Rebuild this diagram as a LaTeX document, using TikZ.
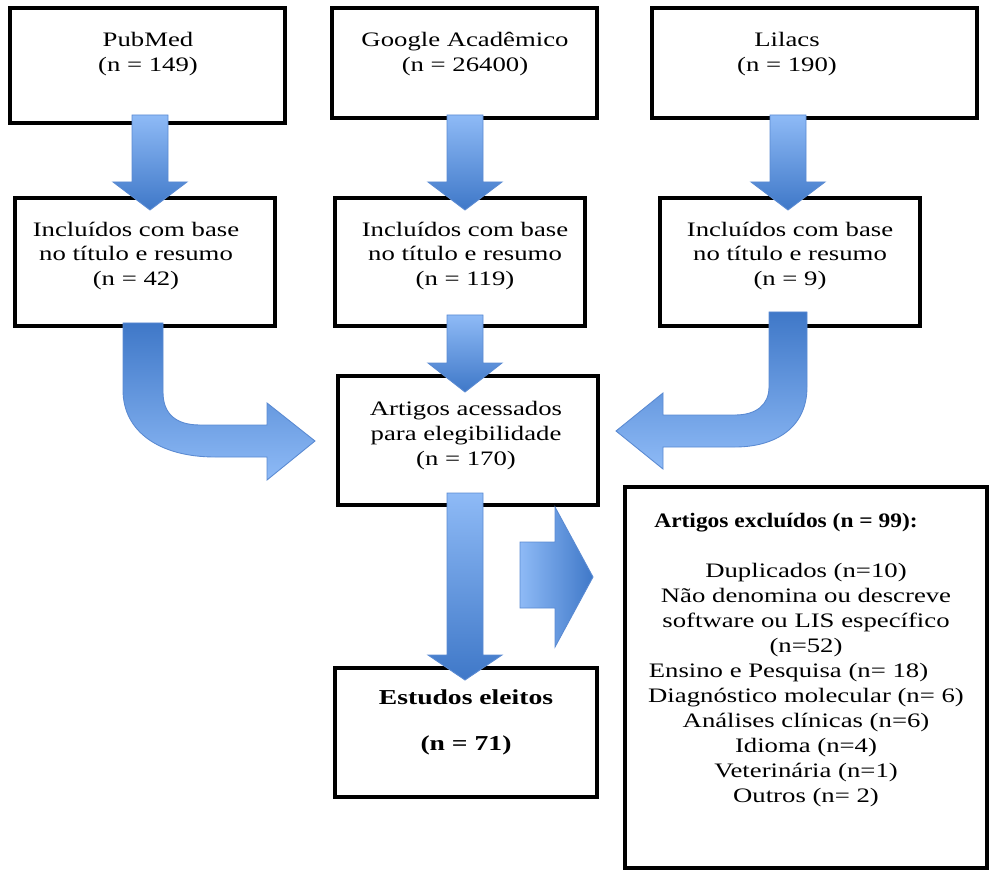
\documentclass[tikz,border=0pt]{standalone}
\usepackage{fontspec}
\setmainfont[FakeStretch=1.3]{Liberation Serif}
\newfontfamily\titlefont[FakeStretch=1.14]{Liberation Serif}
\usepackage{xcolor}
\usepackage{tikz}
\usetikzlibrary{fit}
\definecolor{arrowlight}{HTML}{8EBAF6}
\definecolor{arrowdark}{HTML}{3F78C8}
\definecolor{arrowedge}{HTML}{5A8AD2}

\newcommand{\blockdown}[4]{%
  \path[blockarrow, top color=arrowlight, bottom color=arrowdark]
    (#1-18,#2) -- (#1+18,#2) -- (#1+18,#3) -- (#1+37,#3) -- (#1,#4)
    -- (#1-37,#3) -- (#1-18,#3) -- cycle;}

\begin{document}
\begin{tikzpicture}[x=0.02cm, y=-0.02cm,
    box/.style={draw, line width=2pt, inner sep=0pt},
    txt/.style={align=center, font=\fontsize{11.7}{14.2}\selectfont},
    blockarrow/.style={draw=arrowedge, line width=0.5pt}]
  \useasboundingbox (0,0) rectangle (990,871);

  % fontes
  \node[box, fit={(10,8) (285,123)}] (pubmed) {};
  \node[box, fit={(332,8) (597,118)}] (google) {};
  \node[box, fit={(652,8) (977,118)}] (lilacs) {};
  \node[txt] (pubmedtxt) at (148,54) {PubMed\\(n = 149)};
  \node[txt] (googletxt) at (465,54) {Google Acadêmico\\(n = 26400)};
  \node[txt] (lilacstxt) at (787,54) {Lilacs\\(n = 190)};

  % triagem
  \node[box, fit={(15,198) (275,326)}] (inclpub) {};
  \node[box, fit={(335,198) (585,326)}] (inclgoo) {};
  \node[box, fit={(660,198) (920,326)}] (incllil) {};
  \node[txt] (inclpubtxt) at (136,256) {Incluídos com base\\no título e resumo\\(n = 42)};
  \node[txt] (inclgootxt) at (465,256) {Incluídos com base\\no título e resumo\\(n = 119)};
  \node[txt] (inclliltxt) at (790,256) {Incluídos com base\\no título e resumo\\(n = 9)};

  % elegibilidade
  \node[box, fit={(338,376) (598,505)}] (acess) {};
  \node[txt] (acesstxt) at (466,436) {Artigos acessados\\para elegibilidade\\(n = 170)};
  \node[box, fit={(335,668) (597,797)}] (eleitos) {};
  \node[txt, font=\fontsize{12.1}{14.2}\selectfont\bfseries] (eleitostxt) at (466,722)
    {Estudos eleitos\\[12pt](n = 71)};
  \node[box, fit={(625,487) (987,868)}] (excl) {};
  \node[txt] (excltxt) at (806,660) {{\titlefont\bfseries Artigos excluídos (n = 99):}\makebox[0.8cm]{}\\[14pt]
    Duplicados (n=10)\\Não denomina ou descreve\\software ou LIS específico\\(n=52)\\
    Ensino e Pesquisa (n= 18)\makebox[0.7cm]{}\\Diagnóstico molecular (n= 6)\\Análises clínicas (n=6)\\
    Idioma (n=4)\\Veterinária (n=1)\\Outros (n= 2)};

  % setas retas
  \blockdown{150}{115}{182}{210}
  \blockdown{465}{115}{182}{210}
  \blockdown{788}{115}{182}{210}
  \blockdown{465}{315}{363}{392}
  \blockdown{465}{493}{655}{680}

  % setas curvas
  \path[blockarrow, top color=arrowdark, bottom color=arrowlight]
    (123,323) -- (123,390) .. controls (123,432) and (160,457) .. (215,457)
    -- (267,457) -- (267,480) -- (315,441) -- (267,403) -- (267,425)
    -- (200,425) .. controls (176,425) and (163,414) .. (163,392) -- (163,323) -- cycle;
  \path[blockarrow, top color=arrowdark, bottom color=arrowlight]
    (807,312) -- (807,387) .. controls (807,428) and (775,447) .. (735,447)
    -- (663,447) -- (663,469) -- (616,431) -- (663,393) -- (663,415)
    -- (735,415) .. controls (756,415) and (769,405) .. (769,387) -- (769,312) -- cycle;

  % seta para excluidos
  \path[blockarrow, left color=arrowlight, right color=arrowdark]
    (520,542) -- (555,542) -- (555,507) -- (593,577) -- (555,647)
    -- (555,608) -- (520,608) -- cycle;
\end{tikzpicture}
\end{document}
